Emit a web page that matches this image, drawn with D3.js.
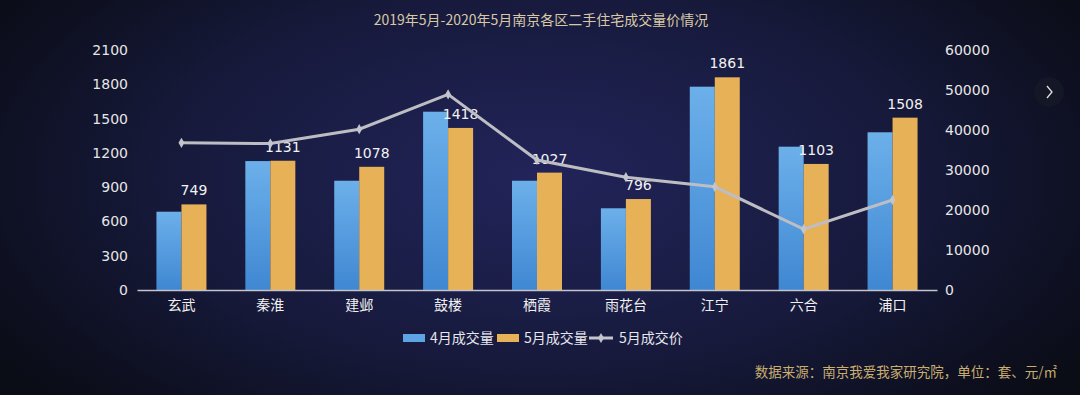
<!DOCTYPE html>
<html>
<head>
<meta charset="utf-8">
<script src="https://cdn.jsdelivr.net/npm/d3@7"></script>
<style>
  html, body { margin: 0; padding: 0; background: #0d0f1c; }
  svg { display: block; font-family: "Noto Sans CJK SC", "Noto Sans", sans-serif; }
</style>
</head>
<body>
<script>
// chart data
const districts = ['玄武', '秦淮', '建邺', '鼓楼', '栖霞', '雨花台', '江宁', '六合', '浦口'];
const aprVolume = [685, 1128, 956, 1560, 956, 715, 1779, 1254, 1380];
const mayVolume = [749, 1131, 1078, 1418, 1027, 796, 1861, 1103, 1508];
const mayPrice = [36800, 36600, 40200, 48900, 32500, 28200, 25800, 15200, 22500];
const leftTicks = [0, 300, 600, 900, 1200, 1500, 1800, 2100];
const rightTicks = [0, 10000, 20000, 30000, 40000, 50000, 60000];
const seriesNames = ['4月成交量', '5月成交量', '5月成交价'];

const W = 1080, H = 395;
const margin = { left: 137, right: 143, top: 50, bottom: 105 };

const svg = d3.select('body').append('svg')
  .attr('width', W)
  .attr('height', H);

const defs = svg.append('defs');

// background: dark edges, navy glow in the middle
const bg = defs.append('radialGradient')
  .attr('id', 'bg')
  .attr('cx', '50%').attr('cy', '45%')
  .attr('r', '60%')
  .attr('gradientTransform', 'translate(0.5,0.45) scale(1,1.4) translate(-0.5,-0.45)');
bg.append('stop').attr('offset', '0%').attr('stop-color', '#22245a');
bg.append('stop').attr('offset', '55%').attr('stop-color', '#171a3c');
bg.append('stop').attr('offset', '100%').attr('stop-color', '#0a0c16');

const blueGrad = defs.append('linearGradient')
  .attr('id', 'blue').attr('x1', 0).attr('y1', 0).attr('x2', 0).attr('y2', 1);
blueGrad.append('stop').attr('offset', '0%').attr('stop-color', '#6cb0ea');
blueGrad.append('stop').attr('offset', '100%').attr('stop-color', '#3f87d2');

svg.append('rect')
  .attr('width', W).attr('height', H)
  .attr('fill', 'url(#bg)');

// scales
const x = d3.scaleBand()
  .domain(districts)
  .range([margin.left, W - margin.right]);

const inner = d3.scaleBand()
  .domain([0, 1])
  .range([-25, 25]);

const yLeft = d3.scaleLinear()
  .domain([0, 2100])
  .range([H - margin.bottom, margin.top]);

const yRight = d3.scaleLinear()
  .domain([0, 60000])
  .range([H - margin.bottom, margin.top]);

// title
svg.append('text')
  .attr('x', 541).attr('y', 25)
  .attr('text-anchor', 'middle')
  .attr('font-size', 14)
  .attr('fill', '#d8c9a6')
  .text('2019年5月-2020年5月南京各区二手住宅成交量价情况');

// left axis
const leftAxis = svg.append('g')
  .attr('transform', `translate(${margin.left - 9},0)`)
  .call(d3.axisLeft(yLeft).tickValues(leftTicks).tickFormat(d3.format('d')).tickSize(0).tickPadding(0));
leftAxis.select('.domain').remove();
leftAxis.selectAll('text')
  .attr('fill', '#e6e6e6')
  .attr('font-size', 14)
  .attr('font-family', '"DejaVu Sans", sans-serif');

// right axis
const rightAxis = svg.append('g')
  .attr('transform', `translate(${W - margin.right + 8},0)`)
  .call(d3.axisRight(yRight).tickValues(rightTicks).tickFormat(d3.format('d')).tickSize(0).tickPadding(0));
rightAxis.select('.domain').remove();
rightAxis.selectAll('text')
  .attr('fill', '#e6e6e6')
  .attr('font-size', 14)
  .attr('font-family', '"DejaVu Sans", sans-serif');

// bars
const groups = svg.append('g').selectAll('g')
  .data(districts)
  .join('g')
  .attr('transform', d => `translate(${x(d) + x.bandwidth() / 2},0)`);

groups.append('rect')
  .attr('x', inner(0))
  .attr('width', inner.bandwidth())
  .attr('y', (d, i) => yLeft(aprVolume[i]))
  .attr('height', (d, i) => yLeft(0) - yLeft(aprVolume[i]))
  .attr('fill', 'url(#blue)');

groups.append('rect')
  .attr('x', inner(1))
  .attr('width', inner.bandwidth())
  .attr('y', (d, i) => yLeft(mayVolume[i]))
  .attr('height', (d, i) => yLeft(0) - yLeft(mayVolume[i]))
  .attr('fill', '#e7b158');

// x axis line + labels
const xAxis = svg.append('g')
  .attr('transform', `translate(0,${yLeft(0)})`)
  .call(d3.axisBottom(x).tickSize(0).tickPadding(10));
xAxis.select('.domain').attr('stroke', '#c4c4cc').attr('stroke-width', 1.5);
xAxis.selectAll('text')
  .attr('fill', '#f0f0f0')
  .attr('font-size', 14)
  .attr('font-family', '"Noto Sans CJK SC", sans-serif');

// price line
const line = d3.line()
  .x((d, i) => x(districts[i]) + x.bandwidth() / 2)
  .y(d => yRight(d));

svg.append('path')
  .datum(mayPrice)
  .attr('d', line)
  .attr('fill', 'none')
  .attr('stroke', '#bdbdc4')
  .attr('stroke-width', 3);

svg.append('g').selectAll('path')
  .data(mayPrice)
  .join('path')
  .attr('transform', (d, i) => `translate(${x(districts[i]) + x.bandwidth() / 2},${yRight(d)})`)
  .attr('d', d3.symbol(d3.symbolDiamond, 30))
  .attr('fill', '#c4c4cc');

// value labels over May bars
groups.append('text')
  .attr('x', inner(1) + inner.bandwidth() / 2)
  .attr('y', (d, i) => yLeft(mayVolume[i]) - 9)
  .attr('text-anchor', 'middle')
  .attr('font-size', 14)
  .attr('font-family', '"DejaVu Sans", sans-serif')
  .attr('fill', '#f2f2f2')
  .text((d, i) => mayVolume[i]);

// legend
const legend = svg.append('g').attr('transform', 'translate(403,338)');
const legendItems = [
  { name: seriesNames[0], type: 'rect', fill: '#5ea3e4', x: 0 },
  { name: seriesNames[1], type: 'rect', fill: '#e7b158', x: 94 },
  { name: seriesNames[2], type: 'line', fill: '#c4c4cc', x: 186 }
];
legendItems.forEach(it => {
  const g = legend.append('g').attr('transform', `translate(${it.x},0)`);
  if (it.type === 'rect') {
    g.append('rect').attr('x', 0).attr('y', -4).attr('width', 22).attr('height', 8).attr('fill', it.fill);
  } else {
    g.append('line').attr('x1', 0).attr('x2', 24).attr('y1', 0).attr('y2', 0)
      .attr('stroke', it.fill).attr('stroke-width', 3);
    g.append('path').attr('transform', 'translate(12,0)')
      .attr('d', d3.symbol(d3.symbolDiamond, 30)).attr('fill', it.fill);
  }
  g.append('text')
    .attr('x', it.type === 'rect' ? 27 : 30)
    .attr('y', 5)
    .attr('font-size', 14)
    .attr('fill', '#e6e6ee')
    .text(it.name);
});

// source note
svg.append('text')
  .attr('x', 1057).attr('y', 377)
  .attr('text-anchor', 'end')
  .attr('font-size', 13.5)
  .attr('fill', '#c9ad6e')
  .text('数据来源：南京我爱我家研究院，单位：套、元/㎡');

// little "next" button on the right
const btn = svg.append('g').attr('transform', 'translate(1049,92)');
btn.append('circle').attr('r', 15).attr('fill', '#141726');
btn.append('path')
  .attr('d', 'M-2,-6 L3,0 L-2,6')
  .attr('fill', 'none')
  .attr('stroke', '#e0e0e0')
  .attr('stroke-width', 1.3);
</script>
</body>
</html>
